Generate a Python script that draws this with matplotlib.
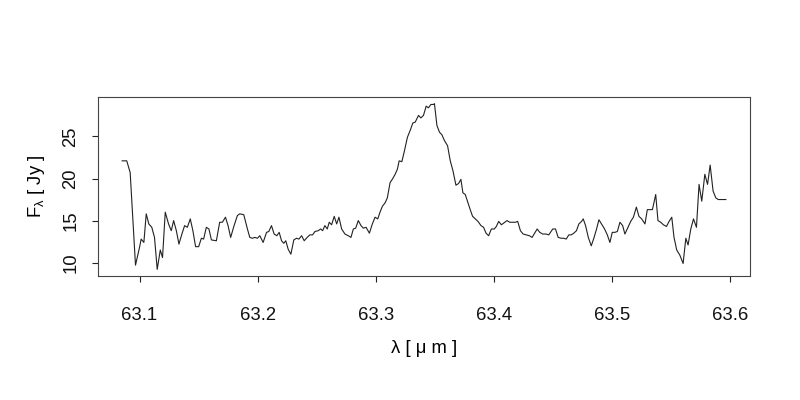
import numpy as np
import matplotlib
matplotlib.use('Agg')
from matplotlib import pyplot as plt

plt.rcParams['font.family'] = ['Liberation Sans', 'DejaVu Sans']
plt.rcParams['mathtext.fontset'] = 'custom'
plt.rcParams['mathtext.rm'] = 'Liberation Sans'
plt.rcParams['mathtext.it'] = 'Liberation Sans'

# wavelength (micron) and flux (Jy)
wavelength = [
    63.0853, 63.0892, 63.0921, 63.0966, 63.1000, 63.1014, 63.1037, 63.1057, 63.1079, 63.1104,
    63.1127, 63.1150, 63.1176, 63.1195, 63.1218, 63.1246, 63.1269, 63.1289, 63.1312, 63.1334,
    63.1359, 63.1382, 63.1405, 63.1430, 63.1452, 63.1475, 63.1501, 63.1524, 63.1543, 63.1566,
    63.1588, 63.1609, 63.1651, 63.1679, 63.1702, 63.1728, 63.1750, 63.1772, 63.1801, 63.1829,
    63.1849, 63.1883, 63.1914, 63.1934, 63.1957, 63.1976, 63.1999, 63.2019, 63.2047, 63.2076,
    63.2095, 63.2118, 63.2140, 63.2163, 63.2183, 63.2203, 63.2222, 63.2239, 63.2259, 63.2282,
    63.2307, 63.2330, 63.2350, 63.2373, 63.2395, 63.2420, 63.2443, 63.2466, 63.2486, 63.2514,
    63.2534, 63.2551, 63.2570, 63.2590, 63.2607, 63.2627, 63.2649, 63.2670, 63.2689, 63.2712,
    63.2740, 63.2768, 63.2791, 63.2811, 63.2831, 63.2853, 63.2876, 63.2896, 63.2919, 63.2947,
    63.2972, 63.2995, 63.3018, 63.3037, 63.3057, 63.3080, 63.3099, 63.3122, 63.3145, 63.3165,
    63.3184, 63.3199, 63.3222, 63.3244, 63.3269, 63.3292, 63.3315, 63.3335, 63.3363, 63.3383,
    63.3405, 63.3428, 63.3447, 63.3468, 63.3490, 63.3498, 63.3519, 63.3541, 63.3561, 63.3583,
    63.3609, 63.3632, 63.3655, 63.3680, 63.3702, 63.3722, 63.3739, 63.3759, 63.3782, 63.3801,
    63.3821, 63.3844, 63.3867, 63.3892, 63.3914, 63.3935, 63.3957, 63.3980, 63.4005, 63.4022,
    63.4042, 63.4065, 63.4084, 63.4113, 63.4135, 63.4161, 63.4183, 63.4203, 63.4226, 63.4249,
    63.4277, 63.4302, 63.4325, 63.4347, 63.4368, 63.4390, 63.4415, 63.4444, 63.4466, 63.4500,
    63.4523, 63.4546, 63.4571, 63.4593, 63.4614, 63.4636, 63.4656, 63.4678, 63.4701, 63.4721,
    63.4744, 63.4758, 63.4778, 63.4801, 63.4826, 63.4848, 63.4871, 63.4891, 63.4913, 63.4939,
    63.4962, 63.4984, 63.5004, 63.5026, 63.5047, 63.5069, 63.5092, 63.5111, 63.5137, 63.5160,
    63.5183, 63.5208, 63.5230, 63.5253, 63.5281, 63.5301, 63.5324, 63.5344, 63.5372, 63.5391,
    63.5414, 63.5437, 63.5463, 63.5485, 63.5508, 63.5527, 63.5550, 63.5576, 63.5604, 63.5627,
    63.5646, 63.5669, 63.5692, 63.5717, 63.5739, 63.5762, 63.5788, 63.5811, 63.5833, 63.5858,
    63.5881, 63.5901, 63.5966,
]
flux = [
    22.1, 22.1, 20.7, 9.7, 11.8, 12.8, 12.4, 15.8, 14.6, 14.2,
    13.0, 9.2, 11.5, 10.6, 16.0, 14.6, 13.8, 15.0, 13.8, 12.2,
    13.4, 14.4, 14.2, 15.2, 13.8, 11.9, 11.9, 12.9, 12.8, 14.2,
    14.0, 12.7, 12.6, 14.8, 14.8, 15.4, 14.4, 13.0, 14.4, 15.6,
    15.8, 15.7, 14.0, 13.0, 12.9, 13.0, 12.9, 13.2, 12.4, 13.6,
    13.7, 14.4, 13.4, 13.2, 13.6, 12.6, 12.3, 12.6, 11.6, 11.0,
    12.7, 12.9, 12.8, 13.2, 12.6, 13.0, 13.3, 13.3, 13.7, 13.8,
    14.0, 13.8, 14.4, 14.0, 14.8, 14.5, 15.5, 14.6, 15.4, 14.0,
    13.4, 13.2, 13.0, 14.0, 14.1, 15.0, 14.4, 14.1, 14.2, 13.5,
    14.6, 15.4, 15.2, 16.0, 16.7, 17.1, 17.7, 19.5, 20.0, 20.5,
    21.1, 22.1, 22.0, 23.3, 24.9, 25.7, 26.6, 26.7, 27.5, 27.2,
    27.5, 28.6, 28.4, 28.8, 28.8, 28.9, 26.3, 25.5, 25.2, 24.5,
    23.9, 22.1, 20.9, 19.2, 19.4, 19.9, 18.3, 18.1, 17.1, 16.3,
    15.5, 15.2, 14.9, 14.4, 14.2, 13.5, 13.2, 14.0, 14.0, 14.3,
    14.9, 14.5, 14.7, 15.0, 14.8, 14.8, 14.8, 14.9, 13.8, 13.4,
    13.3, 13.2, 13.0, 13.5, 14.0, 13.6, 13.4, 13.4, 13.3, 14.0,
    14.0, 13.0, 12.9, 12.9, 12.8, 13.3, 13.3, 13.5, 13.8, 14.6,
    14.9, 15.2, 14.4, 13.0, 12.0, 12.9, 14.0, 15.1, 14.6, 14.0,
    13.3, 12.4, 13.6, 13.6, 13.7, 14.8, 14.4, 13.4, 14.2, 14.9,
    15.4, 16.6, 15.5, 15.2, 14.6, 16.3, 16.3, 16.3, 18.1, 15.0,
    14.8, 14.5, 14.3, 14.9, 15.4, 13.0, 11.5, 10.9, 9.9, 12.9,
    12.1, 14.0, 15.2, 14.2, 19.3, 17.3, 20.5, 19.3, 21.6, 18.5,
    17.7, 17.5, 17.5,
]
x_ticks = [63.1, 63.2, 63.3, 63.4, 63.5, 63.6]
y_ticks = [10, 15, 20, 25]

fig = plt.figure(figsize=(8, 4), dpi=100)
ax = fig.add_axes([0.1225, 0.31, 0.815, 0.4475])
ax.plot(wavelength, flux, color='#222222', lw=0.8)

# R-style 4% padding on both axes
xr = max(wavelength) - min(wavelength)
yr = max(flux) - min(flux)
ax.set_xlim(min(wavelength) - 0.04 * xr, max(wavelength) + 0.04 * xr)
ax.set_ylim(min(flux) - 0.04 * yr, max(flux) + 0.04 * yr)

ax.set_xticks(x_ticks)
ax.set_xticklabels(['%.1f' % t for t in x_ticks])
ax.set_yticks(y_ticks)
ax.set_yticklabels([str(t) for t in y_ticks], rotation=90, va='center')
ax.tick_params(direction='out', length=4.5, width=0.8, colors='#222222',
               labelsize=13.3, labelcolor='#111111')
ax.tick_params(axis='x', pad=18)
ax.tick_params(axis='y', pad=9)
for s in ax.spines.values():
    s.set_linewidth(0.8)
    s.set_color('#444444')

ax.set_xlabel('λ [ μ m ]', fontsize=13.3, labelpad=11)
ax.set_ylabel(r'F$_\lambda$ [ Jy ]', fontsize=13.3, labelpad=11)

fig.savefig('out.png', dpi=100)
